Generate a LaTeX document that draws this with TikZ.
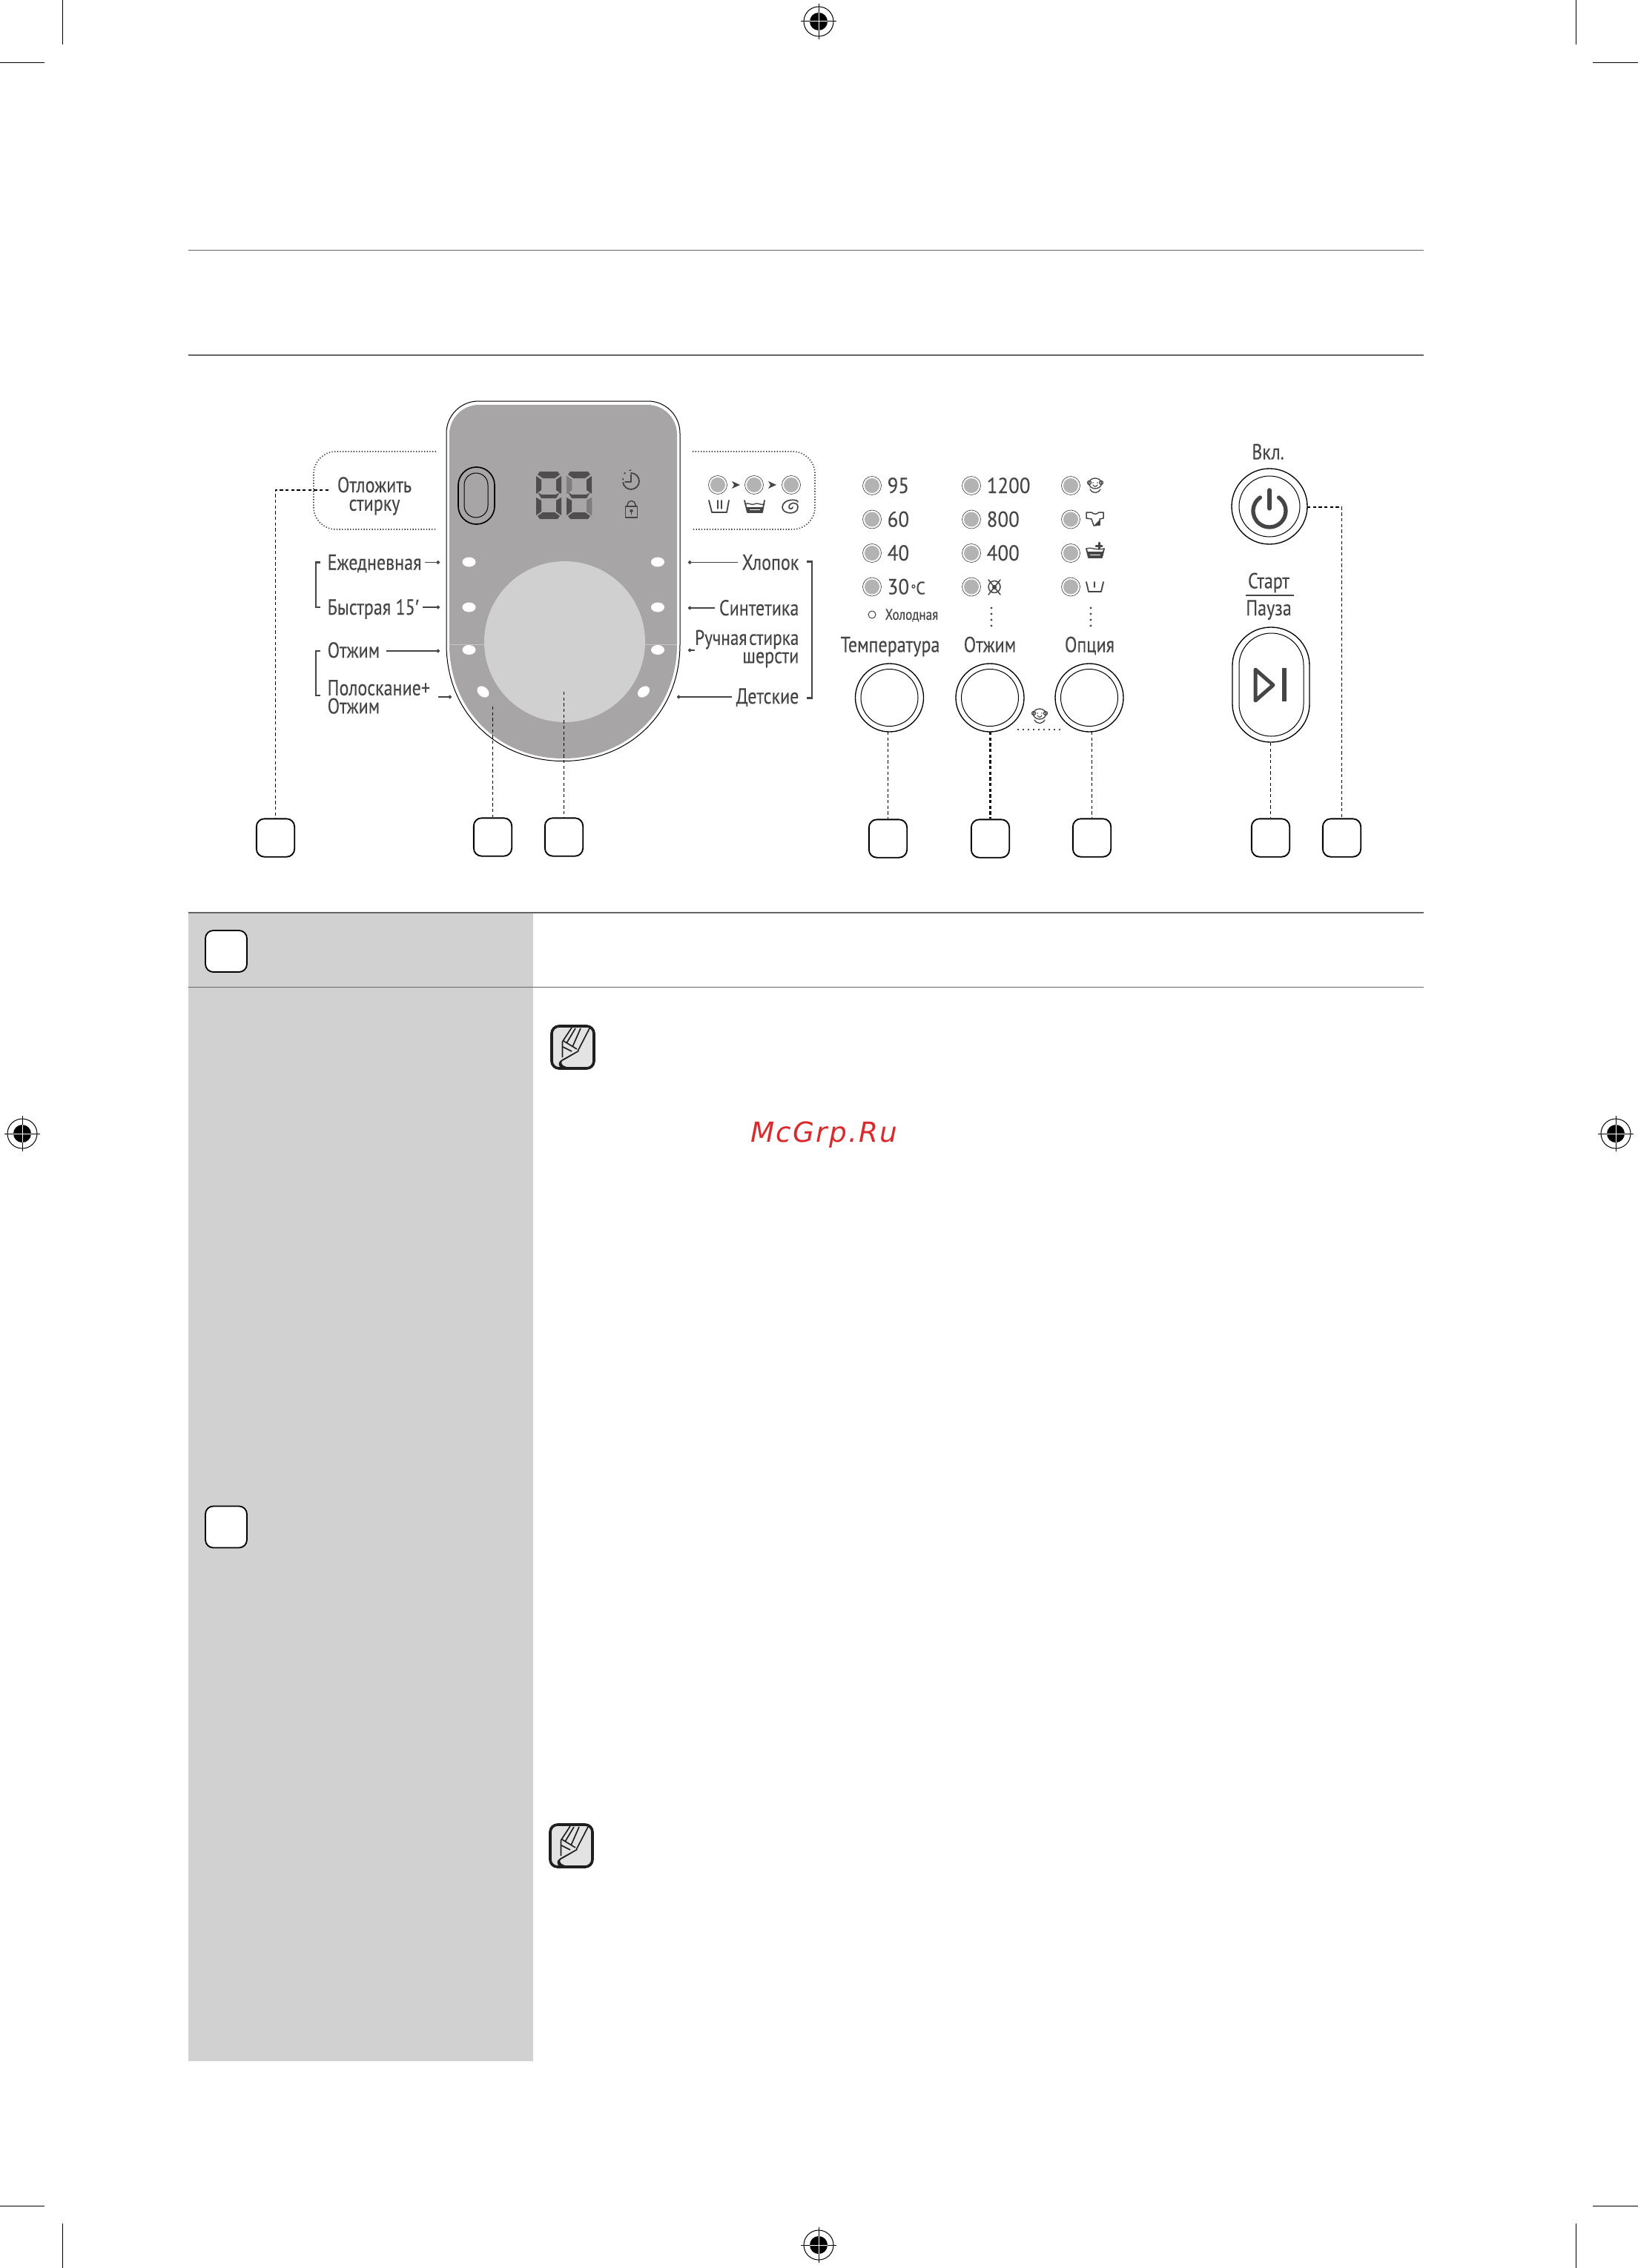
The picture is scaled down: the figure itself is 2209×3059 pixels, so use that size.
\documentclass[tikz,border=0pt]{standalone}
\usepackage{fontspec}
\setmainfont[FakeStretch=0.82,FakeBold=0.15]{PT Sans}
\newfontfamily\numf[FakeStretch=0.92,FakeBold=0.15]{PT Sans}
\newfontfamily\primef{Liberation Sans}
\newfontfamily\mcfont[LetterSpace=6]{DejaVu Sans}
\usetikzlibrary{arrows.meta}
\definecolor{panelg}{HTML}{A7A5A6}
\definecolor{discg}{HTML}{D0D0D0}
\definecolor{ledg}{HTML}{B3B3B3}
\definecolor{ink}{HTML}{454547}
\definecolor{tblg}{HTML}{D1D1D1}
\definecolor{rul}{HTML}{666666}
\definecolor{segd}{HTML}{4F4D4E}
\definecolor{segm}{HTML}{7F7D7E}
\definecolor{mcg}{HTML}{DA2A2C}
\newcommand{\lab}[1]{\fontsize{8.8}{7.4}\selectfont #1}
\tikzset{
 x=0.3pt,y=-0.3pt,
 numbox/.style={draw=black,line width=0.55pt,rounded corners=3.2pt,minimum width=15.4pt,minimum height=15.4pt,inner sep=0pt,fill=white},
 ln/.style={text height=6pt,text depth=0pt},
 labl/.style={text=ink,inner sep=0pt,align=left,anchor=west,font=\lab{}},
 labr/.style={text=ink,inner sep=0pt,align=right,anchor=east,font=\lab{}},
 labc/.style={text=ink,inner sep=0pt,align=center,anchor=center,font=\lab{}},
 labn/.style={text=ink,inner sep=0pt,anchor=west,ln,font=\numf\fontsize{8.8}{8}\selectfont},
 dsh/.style={draw=black,line width=0.5pt,dash pattern=on 1.3pt off 1pt},
 ptr/.style={draw=ink,line width=0.45pt,-{Circle[length=1.4pt]}},
 brk/.style={draw=ink,line width=0.8pt},
 dotb/.style={draw=ink,line width=0.5pt,dash pattern=on 0.4pt off 0.7pt},
 led/.style={circle,draw=ink,fill=white,line width=0.2pt,minimum size=7.5pt,inner sep=0pt},
 ring/.style={circle,draw=black,line width=0.4pt,fill=white,inner sep=0pt},
 icn/.style={draw=ink,line width=0.55pt,line cap=round,line join=round},
 crop/.style={draw=black,line width=0.25pt},
}
\newcommand{\ledat}[3]{\node[led] (#1) at (#2,#3) {}; \fill[ledg] (#2,#3) circle (10);}
\newcommand{\regmark}[2]{\draw[line width=0.3pt] (#1,#2) circle (20); \fill (#1,#2) circle (12);
 \draw[line width=0.3pt] (#1-24,#2)--(#1+24,#2) (#1,#2-24)--(#1,#2+24);
 \draw[white,line width=0.3pt] (#1-12,#2)--(#1+12,#2) (#1,#2-12)--(#1,#2+12);}
\newcommand{\noteicon}[2]{\begin{scope}[shift={(#1,#2)}]
 \draw[line width=1.1pt,draw=black!88,fill=black!11,rounded corners=3pt] (0,0) rectangle (57,57);
 \fill[black!88] (35.5,33) -- (14,45) .. controls (9,48) and (8,52) .. (12,56) -- (32,57) .. controls (22,56) and (13,54) .. (13,49) .. controls (13,47) and (16,46) .. (18,45) -- (37,34) -- cycle;
 \draw[line width=0.5pt,black!88,line join=round] (27,2) -- (14.5,21) -- (14.5,42) (51,3) -- (35.5,33);
 \draw[line width=0.5pt,black!88] (32,3) -- (20,23) (39,3) -- (28,28) (16,20) -- (34,31) (15,28) -- (27,34);
 \end{scope}}
\newcommand{\seg}[1]{%
 \begin{scope}[shift={(#1,636)}]
 \fill[segd] (3,4)--(6,0)--(30,0)--(33,4)--(26,9)--(10,9)--cycle;
 \fill[segd] (3,28)--(8,31)--(28,31)--(33,28)--(28,36)--(8,36)--cycle;
 \fill[segd] (1,6)--(8,11)--(8,25)--(1,30)--cycle;
 \fill[segd] (35,6)--(28,11)--(28,25)--(35,30)--cycle;
 \fill[segd] (1,35)--(8,39)--(8,54)--(1,59)--cycle;
 \fill[segd] (35,35)--(28,39)--(28,54)--(35,59)--cycle;
 \fill[segd] (3,60)--(10,55)--(26,55)--(33,60)--(30,64)--(6,64)--cycle;
 \end{scope}}
\newcommand{\baby}[2]{\begin{scope}[shift={(#1,#2)}]
 \draw[icn,line width=0.4pt] (0,-2) circle (8.5 and 7);
 \draw[icn,line width=0.4pt] (-8,-3) circle (2.5) (8,-3) circle (2.5);
 \draw[icn,line width=0.4pt] (-7,6)..controls(-3,12)and(3,12)..(7,6);
 \draw[icn,line width=0.35pt] (-3,0)..controls(-1,3)and(1,3)..(3,0);
 \fill[ink] (-3,-3) circle (.9) (3,-3) circle (.9);
 \end{scope}}
\begin{document}
\begin{tikzpicture}
\useasboundingbox (0,0) rectangle (2209,3059);
% crop marks
\draw[crop] (84,0)--(84,60) (2125,0)--(2125,60) (84,2999)--(84,3059) (2125,2999)--(2125,3059);
\draw[crop] (0,84)--(60,84) (2148,84)--(2209,84) (0,2975)--(60,2975) (2148,2975)--(2209,2975);
\regmark{1104}{29}\regmark{1104}{3028}\regmark{30}{1529}\regmark{2179}{1529}
% rules
\draw[rul,line width=0.35pt] (254,337.5)--(1920,337.5) (254,479)--(1920,479);
% table
\fill[tblg] (254,1231) rectangle (719,2780);
\draw[rul,line width=0.4pt] (254,1231)--(1920,1231) (254,1331.5)--(1920,1331.5);
\node[numbox,minimum width=16.8pt,minimum height=16.8pt] (t1) at (305,1283) {};
\node[numbox,minimum width=16.8pt,minimum height=16.8pt] (t2) at (305,2059.5) {};
\noteicon{744}{1384}
\noteicon{742}{2461}
\node[inner sep=0pt,text=mcg,font=\mcfont\itshape\fontsize{11.2}{12}\selectfont] (mc) at (1111,1531) {McGrp.Ru};
% dotted boxes
\draw[dotb,rounded corners=9pt] (588,609)--(423,609)--(423,714)--(588,714);
\draw[dotb,rounded corners=9pt] (934,609)--(1099,609)--(1099,714)--(934,714);
% panel
\path[draw=black,line width=0.3pt,fill=white] (602,869) [rounded corners=13pt] -- (602,541) -- (917,541) [sharp corners] -- (917,869) .. controls (917,962) and (848,1026.5) .. (759.5,1026.5) .. controls (671,1026.5) and (602,962) .. (602,869) -- cycle;
\path[fill=panelg] (606,869) [rounded corners=12pt] -- (606,546) -- (913,546) [sharp corners] -- (913,869) .. controls (913,958) and (846,1023) .. (759.5,1023) .. controls (673,1023) and (606,958) .. (606,869) -- cycle;
\draw[white!35!panelg,line width=0.2pt] (606,869)--(913,869);
\node[circle,fill=discg,minimum size=65.1pt,inner sep=0pt] (disc) at (761.5,865.5) {};
% white oval LEDs
\foreach \n/\a/\b/\r in {l1/632.5/758/0,l2/632.5/819/0,l3/632.5/876.5/0,l4/651.5/933/-40,r1/887/758/0,r2/887/819/0,r3/887/876.5/0,r4/868/933/40}{
 \fill[white,rotate around={\r:(\a,\b)}] (\a,\b) ellipse (9 and 6.5);
}
% pill
\draw[black,line width=0.5pt,rounded corners=7.3pt] (618,630) rectangle (667,707);
\draw[black,line width=0.3pt,rounded corners=4.8pt] (626,638) rectangle (658,698);
% seven segments
\seg{722}\seg{763}
\fill[segm] (764,642)--(771,647)--(771,661)--(764,666)--cycle;
\fill[segm] (798,671)--(791,675)--(791,690)--(798,695)--cycle;
% clock and lock
\draw[icn,line width=0.55pt] (851,638) arc[start angle=270,end angle=530,radius=11];
\draw[icn,dotted,line width=0.45pt] (840.2,647) arc[start angle=170,end angle=270,radius=11];
\draw[icn,line width=0.5pt] (851,640)--(851,650)--(843,650);
\draw[icn,line width=0.5pt] (843.5,683) rectangle (859.5,698);
\draw[icn,line width=0.45pt] (846,683)--(846,681) arc[start angle=180,end angle=360,radius=5.5] --(857,683);
\fill[ink] (851.5,689) circle (2.2); \draw[icn,line width=0.35pt] (851.5,689)--(851.5,694);
% three cycle LEDs
\ledat{c1}{968}{654}\ledat{c2}{1017}{654}\ledat{c3}{1067}{654}
\fill[ink] (987,649)--(998,654)--(987,659)--(990,654)--cycle;
\fill[ink] (1036,649)--(1047,654)--(1036,659)--(1039,654)--cycle;
% wash icon
\draw[icn] (956,675)--(960,691)--(980,691)--(983,675);
\draw[icn] (968,675)--(968,686) (973,675)--(973,686);
% rinse icon
\draw[icn] (1004,675)--(1008,691)--(1028,691)--(1031,675);
\draw[icn,line width=0.4pt] (1005,680) .. controls (1010,677) and (1013,682) .. (1017,680) .. controls (1021,677) and (1026,682) .. (1031,680);
\fill[ink] (1007,684) rectangle (1029,691);
\draw[white,line width=0.25pt] (1011,687)--(1025,687);
% spin icon
\draw[icn,line width=0.5pt] (1076,677) .. controls (1076,673) and (1056,672) .. (1055,684) .. controls (1055,694) and (1076,695) .. (1076,684) .. controls (1076,676) and (1064,677) .. (1064,684) .. controls (1064,687) and (1069,687) .. (1069,684);
% left labels
\node[labc] (t0) at (505,669) {Отложить\\стирку};
\node[labl,ln] (ej) at (441,758.5) {Ежедневная};
\node[labl,ln] (by) at (441,819) {Быстрая 15{\primef ′}};
\node[labl,ln] (ot) at (441,877) {Отжим};
\node[labl] (po) at (441,940) {Полоскание+\\Отжим};
\coordinate (ej2) at (593,758.5);\coordinate (by2) at (593,819);\coordinate (ot2) at (593,878);\coordinate (po1) at (591,940);\coordinate (po2) at (609,940);
\coordinate (ej1) at (573,758.5);\coordinate (by1) at (570,819);\coordinate (ot1) at (521,878);
\draw[ptr] (ej1)--(ej2);
\draw[ptr] (by1)--(by2);
\draw[ptr] (ot1)--(ot2);
\draw[ptr] (po1)--(po2);
\draw[brk] (432,758.5)--(426,758.5)--(426,819)--(432,819);
\draw[brk] (432,878)--(426,878)--(426,938)--(432,938);
% right labels
\node[labr,ln] (hl) at (1078,758.5) {Хлопок};
\node[labr,ln] (si) at (1078,820) {Синтетика};
\node[labr] (ru) at (1078,875) {\fontsize{8.5}{7.4}\selectfont Ручная\hspace{0.8pt}стирка\\шерсти};
\node[labr,ln] (de) at (1078,939) {Детские};
\coordinate (hl1) at (995,758.5);\coordinate (si1) at (964,820);\coordinate (ru1) at (936.5,877);\coordinate (de1) at (987,940);
\coordinate (hl2) at (928,758.5);\coordinate (si2) at (928,820);\coordinate (ru2) at (928,877);\coordinate (de2) at (913,940);
\draw[ptr] (hl1)--(hl2);
\draw[ptr] (si1)--(si2);
\draw[ptr] (ru1)--(ru2);
\draw[ptr] (de1)--(de2);
\draw[brk] (1088,757.5)--(1095,757.5)--(1095,941.5)--(1088,941.5);
% number boxes
\node[numbox] (b1) at (371.5,1130) {};
\node[numbox] (b2) at (664.5,1129) {};
\node[numbox] (b3) at (760.5,1129) {};
\node[numbox] (b4) at (1197.5,1131) {};
\node[numbox] (b5) at (1335.5,1131) {};
\node[numbox] (b6) at (1472.5,1130) {};
\node[numbox] (b7) at (1713.5,1130) {};
\node[numbox] (b8) at (1809.5,1130) {};
\coordinate (a1) at (443,661);
\coordinate (a1c) at (371.5,661);
\draw[dsh] (a1)--(a1c)--(b1.north);
\coordinate (a2) at (664.5,953); \draw[dsh] (a2)--(b2.north);
\coordinate (a3) at (760.5,933); \draw[dsh] (a3)--(b3.north);
% knobs
\foreach \n/\a in {k1/1199.5,k2/1335,k3/1469}{
 \node[ring,minimum size=27.6pt] (\n) at (\a,941) {};
 \draw[black,line width=0.3pt] (\a,941) circle (38.5);
}
\coordinate (k1b) at (1197.5,987);\coordinate (k2b) at (1335.5,987);\coordinate (k3b) at (1472.5,987);
\draw[dsh] (k1b)--(b4.north);
\draw[dsh,line width=0.7pt] (k2b)--(b5.north);
\draw[dsh] (k3b)--(b6.north);
\draw[dotb,dash pattern=on 0.5pt off 1.6pt] (1372,984)--(1432,984);
% LEDs
\foreach \y/\r in {655/1,700.5/2,746/3,791.5/4}{
 \ledat{ta\r}{1176}{\y}\ledat{sp\r}{1310}{\y}\ledat{op\r}{1444}{\y}
}
\node[labn] (t95) at (1196,655) {95};
\node[labn] (t60) at (1196,700.5) {60};
\node[labn] (t40) at (1196,746) {40};
\node[labn] (t30) at (1196,791.5) {30\kern0.6pt{\fontsize{5.5}{6}\selectfont °}{\fontsize{7.2}{6}\selectfont C}};
\draw[ink,line width=0.3pt] (1176,829) circle (5);
\node[labl,font=\fontsize{6.25}{6}\selectfont] (xo) at (1193,830) {Холодная};
\node[labn] (s12) at (1330,655) {1200};
\node[labn] (s8) at (1330,700.5) {800};
\node[labn] (s4) at (1330,746) {400};
% no spin icon
\draw[icn,line width=0.45pt] (1341,791.5) circle (8);
\draw[icn,line width=0.45pt] (1333,782)--(1349,802) (1349,782)--(1333,802);
\fill[ink] (1341,792) circle (3);
% vertical dots
\foreach \a in {1337,1471}{\foreach \y in {820,828,836,844}{\fill[ink] (\a,\y) circle (1.7);}}
\node[labc,ln] (lt) at (1200.5,869.5) {Температура};
\node[labc,ln] (ls) at (1335,869.5) {Отжим};
\node[labc,ln] (lo) at (1469.5,869.5) {Опция};
% baby icon
\baby{1477}{654}\baby{1402}{965}
% shirt
\draw[icn,line width=0.45pt] (1465,691)--(1472,691) ..controls (1475,694)and (1479,694)..(1482,691)--(1488,691)--(1488,699)--(1483,700)--(1483,708)--(1475,709)--(1472,700)--(1465,699)--cycle;
\fill[ink] (1475,709)--(1483,708)--(1483,701)--cycle;
% basin plus
\draw[icn,line width=0.55pt] (1465,740)--(1468,752)--(1486,752)--(1489,740);
\fill[ink] (1467,744) rectangle (1487,752);
\draw[white,line width=0.3pt] (1470,748)--(1484,748);
\draw[icn,line width=0.4pt] (1465,740)..controls(1470,737)and(1478,743)..(1489,740);
\draw[icn,line width=0.9pt] (1482,732)--(1482,740) (1478,736)--(1486,736);
% plain basin
\draw[icn] (1465,785)--(1468,798)--(1485,798)--(1488,785);
\draw[icn] (1476,785)--(1476,792);
% power button
\node[labc,ln] (lv) at (1710,609.5) {Вкл.};
\node[ring,minimum size=30.6pt] (pw) at (1712,683) {};
\draw[black,line width=0.3pt] (1712,683) circle (41);
\draw[ink,line width=1.6pt,line cap=round] (1724.6,671) arc[start angle=305,end angle=595,radius=22];
\draw[ink,line width=1.6pt,line cap=round] (1712,661)--(1712,686);
\coordinate (pw2) at (1763,684); \coordinate (pw3) at (1809.5,684);
\draw[dsh] (pw2)--(pw3)--(b8.north);
% start
\node[labc,ln] (ls1) at (1711,783.5) {Старт};
\node[labc,ln] (ls2) at (1711,820) {Пауза};
\draw[ink,line width=0.45pt] (1680,803)--(1745,803);
\draw[black,line width=0.4pt,fill=white,rounded corners=15.5pt] (1662,846) rectangle (1766,1001);
\draw[black,line width=0.3pt,rounded corners=13pt] (1671,854) rectangle (1758,993);
\draw[ink,line width=1.5pt,line join=round] (1693,903)--(1717,924)--(1693,945)--cycle;
\draw[ink,line width=2pt] (1732,901)--(1732,946);
\coordinate (st) at (1713.5,1002);
\draw[dsh] (st)--(b7.north);
\end{tikzpicture}
\end{document}
